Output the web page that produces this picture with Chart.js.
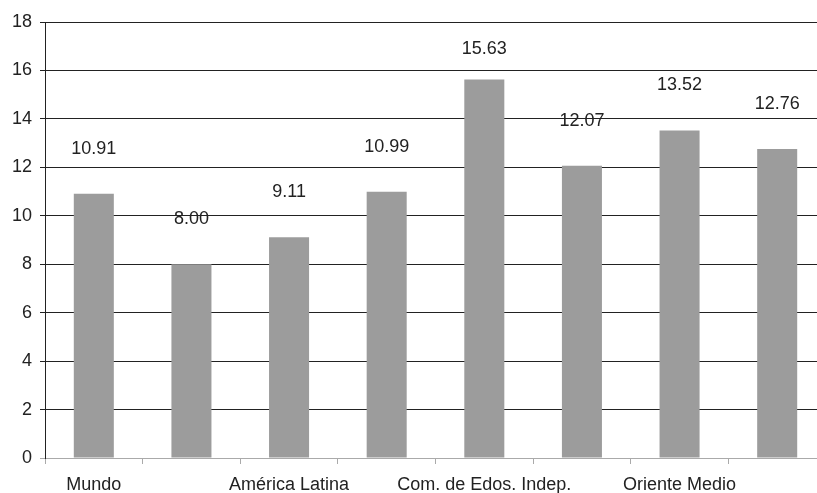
<!DOCTYPE html>
<html>
<head>
<meta charset="utf-8">
<script src="https://cdn.jsdelivr.net/npm/chart.js@4"></script>
<style>
html,body{margin:0;padding:0;background:#fff;overflow:hidden;}
#wrap{width:840px;height:493px;position:relative;}
</style>
</head>
<body>
<div id="wrap"><canvas id="c" width="840" height="493"></canvas></div>
<script>
const categories = ['Mundo', '', 'América Latina', '', 'Com. de Edos. Indep.', '', 'Oriente Medio', ''];
const values = [10.91, 8.00, 9.11, 10.99, 15.63, 12.07, 13.52, 12.76];
const yTicks = [0, 2, 4, 6, 8, 10, 12, 14, 16, 18];

const FONT = '"Liberation Sans", Arial, sans-serif';

const labelPlugin = {
  id: 'barLabels',
  beforeDraw(chart) {
    const ctx = chart.ctx;
    const meta = chart.getDatasetMeta(0);
    ctx.save();
    ctx.font = '18px ' + FONT;
    ctx.fillStyle = '#222';
    ctx.textAlign = 'center';
    ctx.textBaseline = 'middle';
    meta.data.forEach((bar, i) => {
      let y = bar.y - 45;
      if (y < 49) y = 49;
      ctx.fillText(values[i].toFixed(2), bar.x, y);
    });
    ctx.restore();
  }
};

new Chart(document.getElementById('c'), {
  type: 'bar',
  data: {
    labels: categories,
    datasets: [{
      data: values,
      backgroundColor: '#9c9c9c',
      borderWidth: 0,
      categoryPercentage: 1.0,
      barPercentage: 0.41
    }]
  },
  options: {
    responsive: false,
    animation: false,
    events: [],
    layout: { padding: { top: 22, right: 14, left: 0, bottom: 0 } },
    plugins: { legend: { display: false }, tooltip: { enabled: false } },
    scales: {
      x: {
        offset: true,
        grid: { display: true, drawOnChartArea: false, offset: true, color: '#aaa', tickLength: 6 },
        border: { display: true, color: '#aaa' },
        ticks: { autoSkip: false, maxRotation: 0, minRotation: 0, padding: 10, color: '#222',
                 font: { family: FONT, size: 18 } },
        afterFit(s) { s.height = 35; }
      },
      y: {
        min: 0, max: 18,
        afterBuildTicks(s) { s.ticks = yTicks.map(v => ({ value: v })); },
        grid: { color: c => (c.tick && c.tick.value === 0 ? '#aaa' : '#222'), tickLength: 5, lineWidth: 1 },
        border: { display: true, color: '#222' },
        ticks: { padding: 8, color: '#222', font: { family: FONT, size: 18 } },
        afterFit(s) { s.width = 45; }
      }
    }
  },
  plugins: [labelPlugin]
});
</script>
</body>
</html>
